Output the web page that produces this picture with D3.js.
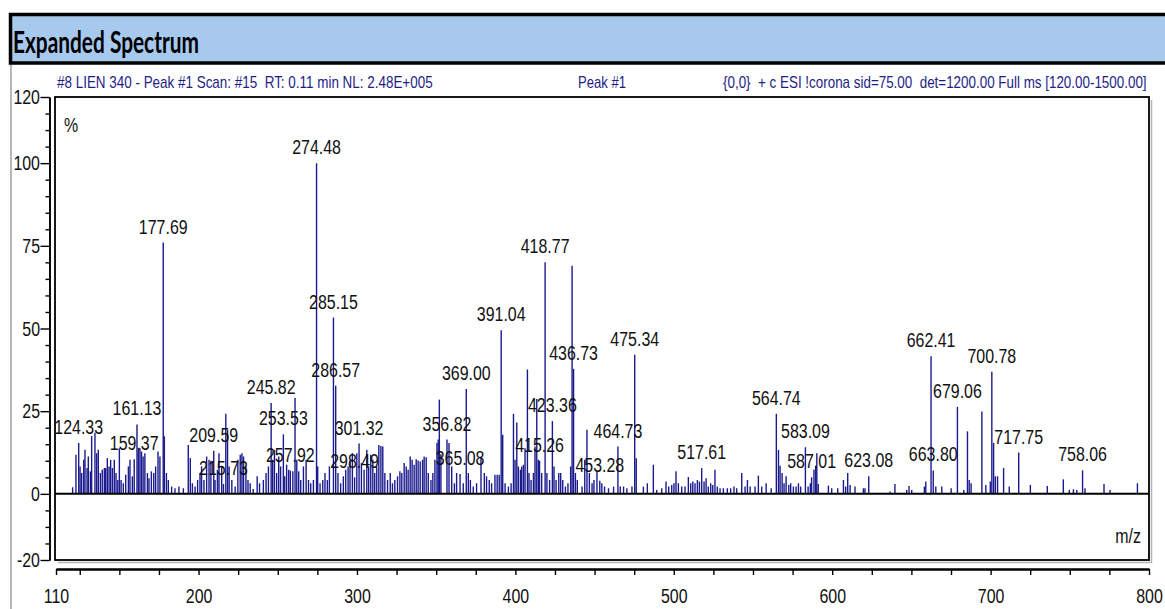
<!DOCTYPE html>
<html>
<head>
<meta charset="utf-8">
<script src="https://cdn.jsdelivr.net/npm/d3@7"></script>
<style>
  html, body { margin: 0; padding: 0; background: #fff; }
  svg { display: block; }
</style>
</head>
<body>
<svg id="chart" width="1165" height="609"></svg>
<script>
// Centroid m/z of each peak in the scan
const mzValues = [
  120.5, 122.6, 124.33, 125.2, 126.2, 127.5, 128.3, 129.6, 130.4, 131.7,
  132.5, 134.6, 135.7, 136.7, 138.0, 139.2, 140.5, 141.4, 142.4, 143.5,
  144.5, 145.6, 146.8, 147.9, 149.0, 150.0, 151.1, 152.5, 154.0, 155.7,
  156.7, 158.2, 159.37, 161.13, 162.0, 163.0, 164.0, 165.0, 166.1, 167.7,
  168.7, 170.2, 171.7, 172.9, 174.4, 175.6, 177.69, 178.4, 179.7, 180.9,
  183.0, 185.1, 187.6, 190.4, 193.5, 194.8, 196.1, 197.8, 199.4, 200.9,
  201.9, 203.4, 205.1, 206.6, 207.8, 209.59, 210.4, 211.9, 212.9, 214.6,
  215.73, 217.2, 218.3, 219.3, 221.0, 223.1, 224.8, 226.3, 227.4, 228.4,
  229.9, 231.2, 232.6, 234.5, 237.0, 238.5, 240.9, 242.6, 244.1, 245.82,
  246.8, 247.9, 249.3, 250.6, 251.8, 253.53, 254.4, 255.6, 256.9, 257.92,
  259.5, 260.9, 262.0, 263.2, 264.5, 266.2, 267.9, 269.4, 270.8, 272.5,
  274.48, 275.2, 276.7, 278.4, 279.8, 281.3, 282.6, 285.15, 286.57, 288.0,
  289.7, 291.4, 292.9, 294.4, 295.6, 297.1, 298.49, 299.9, 301.32, 302.8,
  304.5, 306.2, 307.4, 308.7, 310.0, 311.2, 312.5, 313.8, 315.1, 316.3,
  317.6, 319.3, 321.0, 322.4, 323.9, 325.6, 327.1, 328.3, 329.8, 331.1,
  332.3, 333.6, 334.8, 336.1, 337.4, 338.6, 339.9, 341.4, 342.4, 343.7,
  345.0, 346.7, 347.9, 349.2, 350.5, 351.3, 352.0, 353.0, 356.82, 358.1,
  359.8, 361.5, 362.9, 365.08, 367.1, 369.00, 370.3, 371.6, 373.4, 375.5,
  378.3, 380.4, 381.8, 383.5, 385.0, 387.1, 388.5, 389.8, 391.04, 392.0,
  393.5, 395.6, 397.3, 398.8, 399.8, 400.9, 401.9, 403.2, 404.0, 405.1,
  406.1, 407.6, 408.6, 409.9, 411.4, 412.4, 413.5, 414.5, 415.26, 416.6,
  418.77, 419.9, 421.6, 423.36, 424.4, 425.7, 427.4, 428.6, 429.9, 431.6,
  433.2, 434.9, 435.8, 436.73, 437.9, 439.1, 442.1, 443.8, 445.2, 446.7,
  448.4, 449.6, 451.5, 453.28, 454.6, 456.3, 458.8, 462.0, 464.73, 466.2,
  468.3, 470.4, 473.6, 475.34, 476.3, 480.8, 483.3, 487.1, 489.2, 492.4,
  495.1, 496.8, 498.7, 500.1, 501.4, 502.9, 505.0, 507.1, 509.2, 510.7,
  512.0, 513.4, 514.9, 516.2, 517.61, 519.1, 520.4, 521.8, 523.3, 524.6,
  526.0, 527.5, 529.2, 531.3, 533.8, 535.9, 538.0, 539.7, 542.9, 545.0,
  546.5, 548.2, 551.3, 553.4, 555.5, 558.3, 561.5, 564.74, 566.1, 567.1,
  568.4, 569.6, 570.9, 572.6, 573.8, 575.5, 577.2, 578.7, 580.1, 583.09,
  584.8, 586.2, 587.01, 588.5, 589.6, 590.3, 591.2, 597.6, 599.7, 603.5,
  607.1, 608.5, 609.8, 611.3, 614.4, 619.7, 620.7, 623.08, 636.5, 639.6,
  647.0, 648.5, 650.2, 658.2, 659.1, 662.41, 663.80, 665.4, 669.2, 675.1,
  679.06, 683.1, 685.4, 686.5, 687.7, 694.5, 697.0, 699.8, 700.78, 701.9,
  703.0, 704.4, 708.2, 711.8, 717.75, 725.1, 735.8, 745.9, 749.7, 752.3,
  754.4, 758.06, 759.6, 771.6, 775.4, 792.7
];

// Relative abundance (%) of each peak, same order as mzValues
const intensities = [
  2.0, 11.8, 15.4, 8.3, 6.3, 10.3, 13.3, 7.8, 11.3, 6.8,
  17.5, 18.5, 12.3, 13.3, 6.3, 7.3, 7.8, 7.8, 10.8, 8.3,
  10.3, 7.8, 10.3, 6.3, 4.2, 13.8, 4.2, 3.2, 5.8, 8.3,
  10.3, 5.3, 10.5, 21.0, 13.3, 13.8, 12.8, 11.3, 12.3, 6.3,
  4.7, 6.8, 6.3, 8.3, 12.8, 11.3, 76.0, 17.4, 6.3, 4.2,
  2.2, 1.7, 2.2, 1.7, 14.8, 10.8, 3.2, 2.2, 4.2, 6.3,
  8.3, 4.2, 11.3, 10.3, 10.0, 13.0, 4.2, 7.3, 12.3, 8.3,
  3.0, 24.2, 19.4, 8.3, 4.2, 2.2, 10.3, 11.8, 12.3, 11.3,
  8.3, 4.2, 3.2, 1.5, 5.3, 3.2, 4.2, 6.3, 8.3, 27.5,
  10.3, 13.3, 6.3, 11.3, 8.3, 18.0, 5.3, 8.8, 7.3, 7.0,
  6.8, 29.0, 10.3, 6.8, 4.2, 8.3, 10.3, 4.2, 3.2, 4.2,
  100.0, 8.3, 3.2, 4.2, 6.3, 4.2, 8.3, 53.3, 32.7, 6.3,
  3.2, 5.3, 7.3, 8.3, 10.3, 12.3, 5.0, 12.3, 15.2, 9.3,
  7.3, 13.3, 8.3, 11.8, 10.3, 6.3, 8.3, 14.8, 14.5, 14.3,
  6.3, 4.2, 6.3, 3.2, 4.2, 5.3, 6.8, 6.3, 9.3, 8.3,
  7.3, 11.3, 10.3, 8.8, 10.5, 10.1, 9.8, 10.3, 11.3, 11.1,
  6.3, 4.2, 6.3, 10.3, 15.4, 16.4, 28.5, 12.0, 16.4, 15.4,
  8.3, 3.2, 6.3, 6.0, 3.2, 31.7, 6.3, 4.2, 2.2, 3.2,
  11.3, 6.3, 5.3, 4.2, 3.2, 5.8, 5.8, 5.8, 49.5, 17.9,
  3.2, 2.2, 3.2, 24.2, 10.3, 21.6, 8.3, 7.3, 8.3, 8.8,
  13.8, 37.6, 6.3, 4.2, 6.3, 14.3, 28.7, 10.3, 10.0, 6.3,
  70.0, 6.3, 4.2, 22.0, 8.3, 4.2, 6.3, 6.3, 4.2, 2.2,
  3.2, 8.3, 69.0, 37.8, 6.3, 4.2, 2.2, 10.3, 19.4, 6.3,
  3.2, 4.2, 6.8, 4.0, 3.2, 2.2, 1.7, 2.2, 14.3, 2.2,
  2.2, 1.7, 2.2, 42.1, 10.8, 2.2, 3.2, 8.8, 1.2, 1.7,
  3.7, 2.2, 2.7, 3.2, 6.8, 3.2, 2.2, 2.2, 5.1, 3.2,
  3.7, 3.2, 4.2, 3.7, 7.8, 3.7, 4.7, 2.2, 3.2, 2.7,
  7.3, 2.2, 1.7, 1.7, 1.7, 1.7, 2.2, 1.7, 6.3, 2.2,
  4.2, 2.2, 2.2, 5.5, 2.2, 3.2, 1.7, 24.2, 13.3, 8.5,
  6.3, 3.2, 5.3, 2.7, 3.2, 2.2, 2.2, 3.2, 2.2, 14.1,
  2.2, 3.2, 5.0, 7.4, 8.5, 12.3, 3.0, 2.5, 1.7, 1.7,
  4.2, 2.2, 6.3, 2.7, 2.2, 1.7, 1.7, 5.3, 0.7, 3.0,
  1.2, 2.4, 1.2, 2.2, 3.7, 41.6, 7.1, 2.2, 2.2, 1.7,
  26.3, 1.2, 18.9, 4.2, 3.2, 24.9, 2.7, 3.7, 36.9, 15.4,
  5.3, 5.3, 7.8, 2.2, 12.5, 2.7, 2.4, 4.4, 1.2, 1.4,
  1.2, 7.1, 1.7, 3.0, 1.2, 3.2
];

// Peaks annotated with their m/z
const labeledMz = [
  124.33, 159.37, 161.13, 177.69, 209.59, 215.73, 245.82, 253.53, 257.92,
  274.48, 285.15, 286.57, 298.49, 301.32, 356.82, 365.08, 369.00, 391.04,
  415.26, 418.77, 423.36, 436.73, 453.28, 464.73, 475.34, 517.61, 564.74,
  583.09, 587.01, 623.08, 662.41, 663.80, 679.06, 700.78, 717.75, 758.06
];

const yMajorTicks = [-20, 0, 25, 50, 75, 100, 120];
const xMajorTicks = [110, 200, 300, 400, 500, 600, 700, 800];

const headerTitle = "Expanded Spectrum";
const scanInfo = "#8 LIEN 340 - Peak #1 Scan: #15  RT: 0.11 min NL: 2.48E+005";
const peakInfo = "Peak #1";
const methodInfo = "{0,0}  + c ESI !corona sid=75.00  det=1200.00 Full ms [120.00-1500.00]";
const yUnit = "%";
const xUnit = "m/z";

// ---- layout ----
const FONT = "'Liberation Sans', Arial, sans-serif";
const SQUEEZE = 0.76;          // condensed look of the instrument font
const peakColor = "#1a1a8e";
const infoColor = "#1e1e86";
const plot = { left: 55, right: 1149, top: 97, bottom: 560 };

const svg = d3.select("#chart");

const x = d3.scaleLinear().domain([110, 800]).range([56, plot.right]);
const y = d3.scaleLinear().domain([-20, 120]).range([plot.bottom, plot.top]);

const peaks = mzValues.map((mz, i) => ({ mz, value: intensities[i] }));
const labeled = peaks.filter(p => labeledMz.includes(p.mz));

// Draws a single-line text condensed horizontally so it spans exactly `width` px
function fittedText(parent, str, left, baseline, width, attrs) {
  const t = parent.append("text").attr("x", 0).attr("y", 0)
    .attr("xml:space", "preserve").style("white-space", "pre");
  Object.entries(attrs).forEach(([k, v]) => t.attr(k, v));
  t.text(str);
  const natural = t.node().getComputedTextLength() || width;
  t.attr("transform", `translate(${left},${baseline}) scale(${width / natural},1)`);
  return t;
}

// page frame line on the left
svg.append("line")
  .attr("x1", 11).attr("x2", 11).attr("y1", 64).attr("y2", 609)
  .attr("stroke", "#a0a0a0").attr("stroke-width", 1.5);

// header band
svg.append("rect")
  .attr("x", 10.5).attr("y", 14.5).attr("width", 1170).attr("height", 48.5)
  .attr("fill", "#a8c9ee").attr("stroke", "#000").attr("stroke-width", 3.5);

fittedText(svg, headerTitle, 13, 53, 186, {
  "font-family": "Lato, 'Open Sans', sans-serif",
  "font-weight": 700, "font-size": 31, "fill": "#000"
});

// scan information line
const infoAttrs = { "font-family": FONT, "font-size": 16, "fill": infoColor };
fittedText(svg, scanInfo, 57, 88, 376, infoAttrs);
fittedText(svg, peakInfo, 578, 88, 48, infoAttrs);
fittedText(svg, methodInfo, 723, 88, 424, infoAttrs);

// plot frame with a soft shadow on the right and bottom edges
svg.append("path")
  .attr("d", `M${plot.right + 2.5},${plot.top + 3}V${plot.bottom + 2.5}H${plot.left + 3}`)
  .attr("fill", "none").attr("stroke", "#b5b5b5").attr("stroke-width", 1.5);
svg.append("rect")
  .attr("x", plot.left).attr("y", plot.top)
  .attr("width", plot.right - plot.left).attr("height", plot.bottom - plot.top)
  .attr("fill", "#fff").attr("stroke", "#000").attr("stroke-width", 1.8);

// peaks as centroid sticks
svg.append("g")
  .selectAll("line")
  .data(peaks)
  .join("line")
  .attr("x1", d => x(d.mz)).attr("x2", d => x(d.mz))
  .attr("y1", y(0)).attr("y2", d => y(d.value))
  .attr("stroke", peakColor).attr("stroke-width", 1.4);

// zero line
svg.append("line")
  .attr("x1", plot.left).attr("x2", plot.right)
  .attr("y1", y(0)).attr("y2", y(0))
  .attr("stroke", "#000").attr("stroke-width", 2);

// peak annotations
svg.append("g")
  .attr("font-family", FONT).attr("font-size", 21).attr("fill", "#111")
  .attr("text-anchor", "middle")
  .selectAll("text")
  .data(labeled)
  .join("text")
  .attr("transform", d => `translate(${x(d.mz)},${y(d.value) - 9}) scale(${SQUEEZE},1)`)
  .text(d => d.mz.toFixed(2));

// unit captions inside the frame
svg.append("text")
  .attr("transform", `translate(64,132) scale(${SQUEEZE},1)`)
  .attr("font-family", FONT).attr("font-size", 21).attr("fill", "#111")
  .text(yUnit);
svg.append("text")
  .attr("transform", `translate(1141,543) scale(${SQUEEZE},1)`)
  .attr("font-family", FONT).attr("font-size", 21).attr("fill", "#111")
  .attr("text-anchor", "end")
  .text(xUnit);

// y axis (plain hyphen for negatives, as the instrument prints them)
const yMinor = d3.range(-15, 120, 5).filter(v => !yMajorTicks.includes(v));
const yAxisG = svg.append("g").attr("transform", "translate(49.5,0)");
yAxisG.call(d3.axisLeft(y).tickValues(yMinor).tickSize(4).tickFormat("").tickSizeOuter(0));
yAxisG.append("g").call(d3.axisLeft(y).tickValues(yMajorTicks).tickSize(9)
  .tickFormat(d => String(d)).tickSizeOuter(0));
yAxisG.selectAll("path.domain").attr("stroke-width", 1.6);
yAxisG.selectAll(".tick line").attr("stroke-width", 1.4);
yAxisG.selectAll("text")
  .attr("x", 0)
  .attr("transform", `translate(-9.5,0) scale(${SQUEEZE},1)`)
  .attr("font-family", FONT).attr("font-size", 21).attr("fill", "#111");

// x axis
const xMinor = d3.range(125, 800, 25).filter(v => v % 100 !== 0);
const xAxisG = svg.append("g").attr("transform", "translate(0,569)");
xAxisG.call(d3.axisBottom(x).tickValues(xMinor).tickSize(6).tickFormat("").tickSizeOuter(0));
xAxisG.append("g").call(d3.axisBottom(x).tickValues(xMajorTicks).tickSize(6).tickSizeOuter(0));
xAxisG.selectAll("path.domain").attr("stroke-width", 1.8);
xAxisG.selectAll(".tick line").attr("stroke-width", 1.4);
xAxisG.selectAll("text")
  .attr("y", 19)
  .attr("transform", `scale(${SQUEEZE},1)`)
  .attr("font-family", FONT).attr("font-size", 21).attr("fill", "#111");
</script>
</body>
</html>
